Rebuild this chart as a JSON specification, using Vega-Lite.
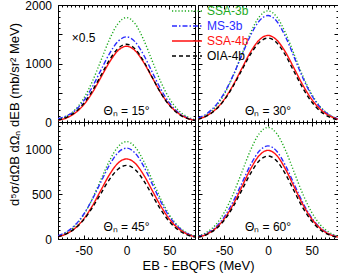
{
"$schema": "https://vega.github.io/schema/vega-lite/v6.json",
"padding": {"left": 8, "top": -2, "right": 2, "bottom": 0},
"config": {
 "view": {"stroke": "black", "strokeWidth": 1},
 "font": "Liberation Sans",
 "axis": {"domainColor": "black", "tickColor": "black", "labelColor": "black", "titleColor": "black", "labelFont": "Liberation Sans", "titleFont": "Liberation Sans", "labelFontSize": 12, "titleFontSize": 13, "titleFontWeight": "normal", "grid": false, "labelOverlap": false, "labelFlush": false, "tickWidth": 1}
},
"data": {"values": [
{"p":"15","s":"SSA-3b","x":-80,"y":40},{"p":"15","s":"SSA-3b","x":-70,"y":97},{"p":"15","s":"SSA-3b","x":-60,"y":211},{"p":"15","s":"SSA-3b","x":-50,"y":403},{"p":"15","s":"SSA-3b","x":-40,"y":689},{"p":"15","s":"SSA-3b","x":-30,"y":1046},{"p":"15","s":"SSA-3b","x":-20,"y":1407},{"p":"15","s":"SSA-3b","x":-10,"y":1681},{"p":"15","s":"SSA-3b","x":0,"y":1785},{"p":"15","s":"SSA-3b","x":10,"y":1681},{"p":"15","s":"SSA-3b","x":20,"y":1407},{"p":"15","s":"SSA-3b","x":30,"y":1046},{"p":"15","s":"SSA-3b","x":40,"y":689},{"p":"15","s":"SSA-3b","x":50,"y":403},{"p":"15","s":"SSA-3b","x":60,"y":211},{"p":"15","s":"SSA-3b","x":70,"y":97},{"p":"15","s":"SSA-3b","x":80,"y":40},
{"p":"15","s":"MS-3b","x":-80,"y":55},{"p":"15","s":"MS-3b","x":-70,"y":105},{"p":"15","s":"MS-3b","x":-60,"y":196},{"p":"15","s":"MS-3b","x":-50,"y":362},{"p":"15","s":"MS-3b","x":-40,"y":598},{"p":"15","s":"MS-3b","x":-30,"y":883},{"p":"15","s":"MS-3b","x":-20,"y":1165},{"p":"15","s":"MS-3b","x":-10,"y":1376},{"p":"15","s":"MS-3b","x":0,"y":1455},{"p":"15","s":"MS-3b","x":10,"y":1371},{"p":"15","s":"MS-3b","x":20,"y":1147},{"p":"15","s":"MS-3b","x":30,"y":853},{"p":"15","s":"MS-3b","x":40,"y":562},{"p":"15","s":"MS-3b","x":50,"y":329},{"p":"15","s":"MS-3b","x":60,"y":172},{"p":"15","s":"MS-3b","x":70,"y":79},{"p":"15","s":"MS-3b","x":80,"y":35},
{"p":"15","s":"SSA-4b","x":-80,"y":29},{"p":"15","s":"SSA-4b","x":-70,"y":70},{"p":"15","s":"SSA-4b","x":-60,"y":153},{"p":"15","s":"SSA-4b","x":-50,"y":293},{"p":"15","s":"SSA-4b","x":-40,"y":500},{"p":"15","s":"SSA-4b","x":-30,"y":759},{"p":"15","s":"SSA-4b","x":-20,"y":1020},{"p":"15","s":"SSA-4b","x":-10,"y":1220},{"p":"15","s":"SSA-4b","x":0,"y":1295},{"p":"15","s":"SSA-4b","x":10,"y":1220},{"p":"15","s":"SSA-4b","x":20,"y":1020},{"p":"15","s":"SSA-4b","x":30,"y":759},{"p":"15","s":"SSA-4b","x":40,"y":500},{"p":"15","s":"SSA-4b","x":50,"y":293},{"p":"15","s":"SSA-4b","x":60,"y":153},{"p":"15","s":"SSA-4b","x":70,"y":70},{"p":"15","s":"SSA-4b","x":80,"y":29},
{"p":"15","s":"OIA-4b","x":-80,"y":34},{"p":"15","s":"OIA-4b","x":-70,"y":80},{"p":"15","s":"OIA-4b","x":-60,"y":168},{"p":"15","s":"OIA-4b","x":-50,"y":317},{"p":"15","s":"OIA-4b","x":-40,"y":531},{"p":"15","s":"OIA-4b","x":-30,"y":793},{"p":"15","s":"OIA-4b","x":-20,"y":1057},{"p":"15","s":"OIA-4b","x":-10,"y":1256},{"p":"15","s":"OIA-4b","x":0,"y":1330},{"p":"15","s":"OIA-4b","x":10,"y":1250},{"p":"15","s":"OIA-4b","x":20,"y":1040},{"p":"15","s":"OIA-4b","x":30,"y":765},{"p":"15","s":"OIA-4b","x":40,"y":496},{"p":"15","s":"OIA-4b","x":50,"y":286},{"p":"15","s":"OIA-4b","x":60,"y":145},{"p":"15","s":"OIA-4b","x":70,"y":65},{"p":"15","s":"OIA-4b","x":80,"y":26},
{"p":"30","s":"SSA-3b","x":-80,"y":54},{"p":"30","s":"SSA-3b","x":-70,"y":125},{"p":"30","s":"SSA-3b","x":-60,"y":257},{"p":"30","s":"SSA-3b","x":-50,"y":473},{"p":"30","s":"SSA-3b","x":-40,"y":781},{"p":"30","s":"SSA-3b","x":-30,"y":1153},{"p":"30","s":"SSA-3b","x":-20,"y":1522},{"p":"30","s":"SSA-3b","x":-10,"y":1797},{"p":"30","s":"SSA-3b","x":0,"y":1900},{"p":"30","s":"SSA-3b","x":10,"y":1797},{"p":"30","s":"SSA-3b","x":20,"y":1522},{"p":"30","s":"SSA-3b","x":30,"y":1153},{"p":"30","s":"SSA-3b","x":40,"y":781},{"p":"30","s":"SSA-3b","x":50,"y":473},{"p":"30","s":"SSA-3b","x":60,"y":257},{"p":"30","s":"SSA-3b","x":70,"y":125},{"p":"30","s":"SSA-3b","x":80,"y":54},
{"p":"30","s":"MS-3b","x":-80,"y":66},{"p":"30","s":"MS-3b","x":-70,"y":142},{"p":"30","s":"MS-3b","x":-60,"y":280},{"p":"30","s":"MS-3b","x":-50,"y":495},{"p":"30","s":"MS-3b","x":-40,"y":792},{"p":"30","s":"MS-3b","x":-30,"y":1139},{"p":"30","s":"MS-3b","x":-20,"y":1478},{"p":"30","s":"MS-3b","x":-10,"y":1727},{"p":"30","s":"MS-3b","x":0,"y":1820},{"p":"30","s":"MS-3b","x":10,"y":1722},{"p":"30","s":"MS-3b","x":20,"y":1458},{"p":"30","s":"MS-3b","x":30,"y":1105},{"p":"30","s":"MS-3b","x":40,"y":748},{"p":"30","s":"MS-3b","x":50,"y":453},{"p":"30","s":"MS-3b","x":60,"y":246},{"p":"30","s":"MS-3b","x":70,"y":120},{"p":"30","s":"MS-3b","x":80,"y":52},
{"p":"30","s":"SSA-4b","x":-80,"y":47},{"p":"30","s":"SSA-4b","x":-70,"y":107},{"p":"30","s":"SSA-4b","x":-60,"y":214},{"p":"30","s":"SSA-4b","x":-50,"y":386},{"p":"30","s":"SSA-4b","x":-40,"y":626},{"p":"30","s":"SSA-4b","x":-30,"y":912},{"p":"30","s":"SSA-4b","x":-20,"y":1194},{"p":"30","s":"SSA-4b","x":-10,"y":1402},{"p":"30","s":"SSA-4b","x":0,"y":1480},{"p":"30","s":"SSA-4b","x":10,"y":1402},{"p":"30","s":"SSA-4b","x":20,"y":1194},{"p":"30","s":"SSA-4b","x":30,"y":912},{"p":"30","s":"SSA-4b","x":40,"y":626},{"p":"30","s":"SSA-4b","x":50,"y":386},{"p":"30","s":"SSA-4b","x":60,"y":214},{"p":"30","s":"SSA-4b","x":70,"y":107},{"p":"30","s":"SSA-4b","x":80,"y":47},
{"p":"30","s":"OIA-4b","x":-80,"y":46},{"p":"30","s":"OIA-4b","x":-70,"y":103},{"p":"30","s":"OIA-4b","x":-60,"y":207},{"p":"30","s":"OIA-4b","x":-50,"y":374},{"p":"30","s":"OIA-4b","x":-40,"y":607},{"p":"30","s":"OIA-4b","x":-30,"y":885},{"p":"30","s":"OIA-4b","x":-20,"y":1157},{"p":"30","s":"OIA-4b","x":-10,"y":1360},{"p":"30","s":"OIA-4b","x":0,"y":1435},{"p":"30","s":"OIA-4b","x":10,"y":1355},{"p":"30","s":"OIA-4b","x":20,"y":1141},{"p":"30","s":"OIA-4b","x":30,"y":855},{"p":"30","s":"OIA-4b","x":40,"y":573},{"p":"30","s":"OIA-4b","x":50,"y":342},{"p":"30","s":"OIA-4b","x":60,"y":181},{"p":"30","s":"OIA-4b","x":70,"y":86},{"p":"30","s":"OIA-4b","x":80,"y":36},
{"p":"45","s":"SSA-3b","x":-80,"y":31},{"p":"45","s":"SSA-3b","x":-70,"y":71},{"p":"45","s":"SSA-3b","x":-60,"y":146},{"p":"45","s":"SSA-3b","x":-50,"y":269},{"p":"45","s":"SSA-3b","x":-40,"y":445},{"p":"45","s":"SSA-3b","x":-30,"y":657},{"p":"45","s":"SSA-3b","x":-20,"y":867},{"p":"45","s":"SSA-3b","x":-10,"y":1024},{"p":"45","s":"SSA-3b","x":0,"y":1082},{"p":"45","s":"SSA-3b","x":10,"y":1024},{"p":"45","s":"SSA-3b","x":20,"y":867},{"p":"45","s":"SSA-3b","x":30,"y":657},{"p":"45","s":"SSA-3b","x":40,"y":445},{"p":"45","s":"SSA-3b","x":50,"y":269},{"p":"45","s":"SSA-3b","x":60,"y":146},{"p":"45","s":"SSA-3b","x":70,"y":71},{"p":"45","s":"SSA-3b","x":80,"y":31},
{"p":"45","s":"MS-3b","x":-80,"y":36},{"p":"45","s":"MS-3b","x":-70,"y":79},{"p":"45","s":"MS-3b","x":-60,"y":156},{"p":"45","s":"MS-3b","x":-50,"y":275},{"p":"45","s":"MS-3b","x":-40,"y":439},{"p":"45","s":"MS-3b","x":-30,"y":632},{"p":"45","s":"MS-3b","x":-20,"y":820},{"p":"45","s":"MS-3b","x":-10,"y":958},{"p":"45","s":"MS-3b","x":0,"y":1010},{"p":"45","s":"MS-3b","x":10,"y":955},{"p":"45","s":"MS-3b","x":20,"y":809},{"p":"45","s":"MS-3b","x":30,"y":613},{"p":"45","s":"MS-3b","x":40,"y":415},{"p":"45","s":"MS-3b","x":50,"y":251},{"p":"45","s":"MS-3b","x":60,"y":136},{"p":"45","s":"MS-3b","x":70,"y":66},{"p":"45","s":"MS-3b","x":80,"y":29},
{"p":"45","s":"SSA-4b","x":-80,"y":25},{"p":"45","s":"SSA-4b","x":-70,"y":58},{"p":"45","s":"SSA-4b","x":-60,"y":120},{"p":"45","s":"SSA-4b","x":-50,"y":222},{"p":"45","s":"SSA-4b","x":-40,"y":366},{"p":"45","s":"SSA-4b","x":-30,"y":540},{"p":"45","s":"SSA-4b","x":-20,"y":713},{"p":"45","s":"SSA-4b","x":-10,"y":842},{"p":"45","s":"SSA-4b","x":0,"y":890},{"p":"45","s":"SSA-4b","x":10,"y":842},{"p":"45","s":"SSA-4b","x":20,"y":713},{"p":"45","s":"SSA-4b","x":30,"y":540},{"p":"45","s":"SSA-4b","x":40,"y":366},{"p":"45","s":"SSA-4b","x":50,"y":222},{"p":"45","s":"SSA-4b","x":60,"y":120},{"p":"45","s":"SSA-4b","x":70,"y":58},{"p":"45","s":"SSA-4b","x":80,"y":25},
{"p":"45","s":"OIA-4b","x":-80,"y":26},{"p":"45","s":"OIA-4b","x":-70,"y":59},{"p":"45","s":"OIA-4b","x":-60,"y":118},{"p":"45","s":"OIA-4b","x":-50,"y":213},{"p":"45","s":"OIA-4b","x":-40,"y":346},{"p":"45","s":"OIA-4b","x":-30,"y":504},{"p":"45","s":"OIA-4b","x":-20,"y":660},{"p":"45","s":"OIA-4b","x":-10,"y":775},{"p":"45","s":"OIA-4b","x":0,"y":818},{"p":"45","s":"OIA-4b","x":10,"y":772},{"p":"45","s":"OIA-4b","x":20,"y":650},{"p":"45","s":"OIA-4b","x":30,"y":488},{"p":"45","s":"OIA-4b","x":40,"y":326},{"p":"45","s":"OIA-4b","x":50,"y":195},{"p":"45","s":"OIA-4b","x":60,"y":103},{"p":"45","s":"OIA-4b","x":70,"y":49},{"p":"45","s":"OIA-4b","x":80,"y":21},
{"p":"60","s":"SSA-3b","x":-80,"y":31},{"p":"60","s":"SSA-3b","x":-70,"y":74},{"p":"60","s":"SSA-3b","x":-60,"y":156},{"p":"60","s":"SSA-3b","x":-50,"y":295},{"p":"60","s":"SSA-3b","x":-40,"y":495},{"p":"60","s":"SSA-3b","x":-30,"y":739},{"p":"60","s":"SSA-3b","x":-20,"y":986},{"p":"60","s":"SSA-3b","x":-10,"y":1171},{"p":"60","s":"SSA-3b","x":0,"y":1240},{"p":"60","s":"SSA-3b","x":10,"y":1171},{"p":"60","s":"SSA-3b","x":20,"y":986},{"p":"60","s":"SSA-3b","x":30,"y":739},{"p":"60","s":"SSA-3b","x":40,"y":495},{"p":"60","s":"SSA-3b","x":50,"y":295},{"p":"60","s":"SSA-3b","x":60,"y":156},{"p":"60","s":"SSA-3b","x":70,"y":74},{"p":"60","s":"SSA-3b","x":80,"y":31},
{"p":"60","s":"MS-3b","x":-80,"y":26},{"p":"60","s":"MS-3b","x":-70,"y":62},{"p":"60","s":"MS-3b","x":-60,"y":130},{"p":"60","s":"MS-3b","x":-50,"y":246},{"p":"60","s":"MS-3b","x":-40,"y":413},{"p":"60","s":"MS-3b","x":-30,"y":617},{"p":"60","s":"MS-3b","x":-20,"y":823},{"p":"60","s":"MS-3b","x":-10,"y":977},{"p":"60","s":"MS-3b","x":0,"y":1035},{"p":"60","s":"MS-3b","x":10,"y":975},{"p":"60","s":"MS-3b","x":20,"y":816},{"p":"60","s":"MS-3b","x":30,"y":607},{"p":"60","s":"MS-3b","x":40,"y":400},{"p":"60","s":"MS-3b","x":50,"y":234},{"p":"60","s":"MS-3b","x":60,"y":122},{"p":"60","s":"MS-3b","x":70,"y":56},{"p":"60","s":"MS-3b","x":80,"y":23},
{"p":"60","s":"SSA-4b","x":-80,"y":22},{"p":"60","s":"SSA-4b","x":-70,"y":53},{"p":"60","s":"SSA-4b","x":-60,"y":116},{"p":"60","s":"SSA-4b","x":-50,"y":223},{"p":"60","s":"SSA-4b","x":-40,"y":380},{"p":"60","s":"SSA-4b","x":-30,"y":577},{"p":"60","s":"SSA-4b","x":-20,"y":776},{"p":"60","s":"SSA-4b","x":-10,"y":928},{"p":"60","s":"SSA-4b","x":0,"y":985},{"p":"60","s":"SSA-4b","x":10,"y":928},{"p":"60","s":"SSA-4b","x":20,"y":776},{"p":"60","s":"SSA-4b","x":30,"y":577},{"p":"60","s":"SSA-4b","x":40,"y":380},{"p":"60","s":"SSA-4b","x":50,"y":223},{"p":"60","s":"SSA-4b","x":60,"y":116},{"p":"60","s":"SSA-4b","x":70,"y":53},{"p":"60","s":"SSA-4b","x":80,"y":22},
{"p":"60","s":"OIA-4b","x":-80,"y":21},{"p":"60","s":"OIA-4b","x":-70,"y":50},{"p":"60","s":"OIA-4b","x":-60,"y":109},{"p":"60","s":"OIA-4b","x":-50,"y":208},{"p":"60","s":"OIA-4b","x":-40,"y":356},{"p":"60","s":"OIA-4b","x":-30,"y":540},{"p":"60","s":"OIA-4b","x":-20,"y":727},{"p":"60","s":"OIA-4b","x":-10,"y":869},{"p":"60","s":"OIA-4b","x":0,"y":922},{"p":"60","s":"OIA-4b","x":10,"y":867},{"p":"60","s":"OIA-4b","x":20,"y":721},{"p":"60","s":"OIA-4b","x":30,"y":530},{"p":"60","s":"OIA-4b","x":40,"y":344},{"p":"60","s":"OIA-4b","x":50,"y":198},{"p":"60","s":"OIA-4b","x":60,"y":100},{"p":"60","s":"OIA-4b","x":70,"y":45},{"p":"60","s":"OIA-4b","x":80,"y":18}
]},
"columns": 2,
"spacing": 0,
"bounds": "flush",
"align": "all",
"resolve": {"scale": {"x": "independent", "y": "independent"}},
"concat": [
{
 "width": 137, "height": 117,
 "resolve": {"axis": {"x": "independent", "y": "independent"}},
 "layer": [
  {"transform": [{"filter": "datum.p === '15' && (datum.s === 'SSA-3b' || datum.s === 'MS-3b')"}],
   "mark": {"type": "line", "interpolate": "monotone", "clip": true, "strokeWidth": 1.4},
   "encoding": {
    "x": {"field": "x", "type": "quantitative", "scale": {"domain": [-80, 80], "nice": false, "zero": false},
      "axis": {"orient": "bottom", "values": [-50, 0, 50], "labels": false, "domain": false, "tickSize": -4, "title": null}},
    "y": {"field": "y", "type": "quantitative", "scale": {"domain": [0, 2000], "nice": false},
      "axis": {"orient": "left", "values": [0, 500, 1000, 1500, 2000], "labelExpr": "datum.value % 1000 === 0 ? '' + datum.value : ''", "labelPadding": 10.5, "domain": false, "tickSize": -4, "title": "d⁵σ/dΩB dΩₙ dEB  (mb/sr² MeV)", "titleY": 109, "titlePadding": 3}},
    "color": {"field": "s", "type": "nominal", "scale": {"domain": ["SSA-3b", "MS-3b", "SSA-4b", "OIA-4b"], "range": ["#1daa1d", "#2b2bff", "#ff1010", "#000000"]},
      "legend": {"orient": "none", "legendX": 113, "legendY": 0, "title": null, "symbolType": "M-1,0H5", "symbolSize": 100, "symbolStrokeWidth": 1.5, "labelOffset": 24, "labelFontSize": 12, "labelFont": "Liberation Sans", "rowPadding": 3, "padding": 0,
        "encode": {"labels": {"update": {"fill": [{"test": "datum.value === 'SSA-3b'", "value": "#1daa1d"}, {"test": "datum.value === 'MS-3b'", "value": "#2b2bff"}, {"test": "datum.value === 'SSA-4b'", "value": "#ff1010"}, {"value": "#000000"}]}}}}},
    "strokeDash": {"field": "s", "type": "nominal", "scale": {"domain": ["SSA-3b", "MS-3b", "SSA-4b", "OIA-4b"], "range": [[1.2, 2], [5, 2, 1.5, 2], [1, 0], [4, 3]]},
      "legend": {"orient": "none", "legendX": 113, "legendY": 0, "title": null, "symbolType": "M-1,0H5", "symbolSize": 100, "symbolStrokeWidth": 1.5, "labelOffset": 24, "labelFontSize": 12, "labelFont": "Liberation Sans", "rowPadding": 3, "padding": 0,
        "encode": {"labels": {"update": {"fill": [{"test": "datum.value === 'SSA-3b'", "value": "#1daa1d"}, {"test": "datum.value === 'MS-3b'", "value": "#2b2bff"}, {"test": "datum.value === 'SSA-4b'", "value": "#ff1010"}, {"value": "#000000"}]}}}}}
   }},
  {"transform": [{"filter": "datum.p === '15' && (datum.s === 'SSA-4b' || datum.s === 'OIA-4b')"}],
   "mark": {"type": "line", "interpolate": "monotone", "clip": true, "strokeWidth": 1.4},
   "encoding": {
    "x": {"field": "x", "type": "quantitative", "scale": {"domain": [-80, 80], "nice": false, "zero": false},
      "axis": {"orient": "bottom", "values": [-80,-75,-70,-65,-60,-55,-50,-45,-40,-35,-30,-25,-20,-15,-10,-5,0,5,10,15,20,25,30,35,40,45,50,55,60,65,70,75,80], "labels": false, "domain": false, "tickSize": -2, "title": null}},
    "y": {"field": "y", "type": "quantitative", "scale": {"domain": [0, 2000], "nice": false},
      "axis": {"orient": "left", "values": [0,100,200,300,400,500,600,700,800,900,1000,1100,1200,1300,1400,1500,1600,1700,1800,1900,2000], "labels": false, "domain": false, "tickSize": -2, "title": null}},
    "color": {"field": "s", "type": "nominal", "scale": {"domain": ["SSA-3b", "MS-3b", "SSA-4b", "OIA-4b"], "range": ["#1daa1d", "#2b2bff", "#ff1010", "#000000"]},
      "legend": {"orient": "none", "legendX": 113, "legendY": 0, "title": null, "symbolType": "M-1,0H5", "symbolSize": 100, "symbolStrokeWidth": 1.5, "labelOffset": 24, "labelFontSize": 12, "labelFont": "Liberation Sans", "rowPadding": 3, "padding": 0,
        "encode": {"labels": {"update": {"fill": [{"test": "datum.value === 'SSA-3b'", "value": "#1daa1d"}, {"test": "datum.value === 'MS-3b'", "value": "#2b2bff"}, {"test": "datum.value === 'SSA-4b'", "value": "#ff1010"}, {"value": "#000000"}]}}}}},
    "strokeDash": {"field": "s", "type": "nominal", "scale": {"domain": ["SSA-3b", "MS-3b", "SSA-4b", "OIA-4b"], "range": [[1.2, 2], [5, 2, 1.5, 2], [1, 0], [4, 3]]},
      "legend": {"orient": "none", "legendX": 113, "legendY": 0, "title": null, "symbolType": "M-1,0H5", "symbolSize": 100, "symbolStrokeWidth": 1.5, "labelOffset": 24, "labelFontSize": 12, "labelFont": "Liberation Sans", "rowPadding": 3, "padding": 0,
        "encode": {"labels": {"update": {"fill": [{"test": "datum.value === 'SSA-3b'", "value": "#1daa1d"}, {"test": "datum.value === 'MS-3b'", "value": "#2b2bff"}, {"test": "datum.value === 'SSA-4b'", "value": "#ff1010"}, {"value": "#000000"}]}}}}}
   }},
  {"data": {"values": [{}]}, "mark": {"type": "text", "text": "Θₙ = 15°", "font": "Liberation Sans", "fontSize": 12, "align": "center", "baseline": "alphabetic", "color": "black"},
   "encoding": {
    "x": {"datum": 0, "type": "quantitative", "axis": {"orient": "top", "values": [-80,-75,-70,-65,-60,-55,-50,-45,-40,-35,-30,-25,-20,-15,-10,-5,0,5,10,15,20,25,30,35,40,45,50,55,60,65,70,75,80], "labels": false, "domain": false, "title": null, "tickSize": {"condition": {"test": "datum.value % 50 === 0", "value": -4}, "value": -2}}},
    "y": {"datum": 120, "type": "quantitative", "axis": {"orient": "right", "values": [0,100,200,300,400,500,600,700,800,900,1000,1100,1200,1300,1400,1500,1600,1700,1800,1900,2000], "labels": false, "domain": false, "title": null, "tickSize": {"condition": {"test": "datum.value % 500 === 0", "value": -4}, "value": -2}}}}},
  {"data": {"values": [{}]}, "mark": {"type": "text", "text": "×0.5", "font": "Liberation Sans", "fontSize": 12, "align": "center", "baseline": "alphabetic", "color": "black"},
   "encoding": {"x": {"datum": -50, "type": "quantitative", "axis": null}, "y": {"datum": 1360, "type": "quantitative", "axis": null}}}
 ]
},
{
 "width": 140, "height": 117,
 "resolve": {"axis": {"x": "independent", "y": "independent"}},
 "layer": [
  {"transform": [{"filter": "datum.p === '30' && (datum.s === 'SSA-3b' || datum.s === 'MS-3b')"}],
   "mark": {"type": "line", "interpolate": "monotone", "clip": true, "strokeWidth": 1.4},
   "encoding": {
    "x": {"field": "x", "type": "quantitative", "scale": {"domain": [-80, 80], "nice": false, "zero": false},
      "axis": {"orient": "bottom", "values": [-50, 0, 50], "labels": false, "domain": false, "tickSize": -4, "title": null}},
    "y": {"field": "y", "type": "quantitative", "scale": {"domain": [0, 2000], "nice": false},
      "axis": {"orient": "left", "values": [0, 500, 1000, 1500, 2000], "labels": false, "domain": false, "tickSize": -4, "title": null}},
    "color": {"field": "s", "type": "nominal", "scale": {"domain": ["SSA-3b", "MS-3b", "SSA-4b", "OIA-4b"], "range": ["#1daa1d", "#2b2bff", "#ff1010", "#000000"]}, "legend": null},
    "strokeDash": {"field": "s", "type": "nominal", "scale": {"domain": ["SSA-3b", "MS-3b", "SSA-4b", "OIA-4b"], "range": [[1.2, 2], [5, 2, 1.5, 2], [1, 0], [4, 3]]}, "legend": null}
   }},
  {"transform": [{"filter": "datum.p === '30' && (datum.s === 'SSA-4b' || datum.s === 'OIA-4b')"}],
   "mark": {"type": "line", "interpolate": "monotone", "clip": true, "strokeWidth": 1.4},
   "encoding": {
    "x": {"field": "x", "type": "quantitative", "scale": {"domain": [-80, 80], "nice": false, "zero": false},
      "axis": {"orient": "bottom", "values": [-80,-75,-70,-65,-60,-55,-50,-45,-40,-35,-30,-25,-20,-15,-10,-5,0,5,10,15,20,25,30,35,40,45,50,55,60,65,70,75,80], "labels": false, "domain": false, "tickSize": -2, "title": null}},
    "y": {"field": "y", "type": "quantitative", "scale": {"domain": [0, 2000], "nice": false},
      "axis": {"orient": "left", "values": [0,100,200,300,400,500,600,700,800,900,1000,1100,1200,1300,1400,1500,1600,1700,1800,1900,2000], "labels": false, "domain": false, "tickSize": -2, "title": null}},
    "color": {"field": "s", "type": "nominal", "scale": {"domain": ["SSA-3b", "MS-3b", "SSA-4b", "OIA-4b"], "range": ["#1daa1d", "#2b2bff", "#ff1010", "#000000"]}, "legend": null},
    "strokeDash": {"field": "s", "type": "nominal", "scale": {"domain": ["SSA-3b", "MS-3b", "SSA-4b", "OIA-4b"], "range": [[1.2, 2], [5, 2, 1.5, 2], [1, 0], [4, 3]]}, "legend": null}
   }},
  {"data": {"values": [{}]}, "mark": {"type": "text", "text": "Θₙ = 30°", "font": "Liberation Sans", "fontSize": 12, "align": "center", "baseline": "alphabetic", "color": "black"},
   "encoding": {
    "x": {"datum": 0, "type": "quantitative", "axis": {"orient": "top", "values": [-80,-75,-70,-65,-60,-55,-50,-45,-40,-35,-30,-25,-20,-15,-10,-5,0,5,10,15,20,25,30,35,40,45,50,55,60,65,70,75,80], "labels": false, "domain": false, "title": null, "tickSize": {"condition": {"test": "datum.value % 50 === 0", "value": -4}, "value": -2}}},
    "y": {"datum": 120, "type": "quantitative", "axis": {"orient": "right", "values": [0,100,200,300,400,500,600,700,800,900,1000,1100,1200,1300,1400,1500,1600,1700,1800,1900,2000], "labels": false, "domain": false, "title": null, "tickSize": {"condition": {"test": "datum.value % 500 === 0", "value": -4}, "value": -2}}}}}
 ]
},
{
 "width": 137, "height": 117,
 "resolve": {"axis": {"x": "independent", "y": "independent"}},
 "layer": [
  {"transform": [{"filter": "datum.p === '45' && (datum.s === 'SSA-3b' || datum.s === 'MS-3b')"}],
   "mark": {"type": "line", "interpolate": "monotone", "clip": true, "strokeWidth": 1.4},
   "encoding": {
    "x": {"field": "x", "type": "quantitative", "scale": {"domain": [-80, 80], "nice": false, "zero": false},
      "axis": {"orient": "bottom", "values": [-50, 0, 50], "labelExpr": "'' + datum.value", "labelPadding": 10, "domain": false, "tickSize": -4, "title": "EB - EBQFS   (MeV)", "titleX": 140, "titlePadding": 3}},
    "y": {"field": "y", "type": "quantitative", "scale": {"domain": [0, 1300], "nice": false},
      "axis": {"orient": "left", "values": [0, 500, 1000], "labelExpr": "'' + datum.value", "labelPadding": 10.5, "domain": false, "tickSize": -4, "title": null}},
    "color": {"field": "s", "type": "nominal", "scale": {"domain": ["SSA-3b", "MS-3b", "SSA-4b", "OIA-4b"], "range": ["#1daa1d", "#2b2bff", "#ff1010", "#000000"]}, "legend": null},
    "strokeDash": {"field": "s", "type": "nominal", "scale": {"domain": ["SSA-3b", "MS-3b", "SSA-4b", "OIA-4b"], "range": [[1.2, 2], [5, 2, 1.5, 2], [1, 0], [4, 3]]}, "legend": null}
   }},
  {"transform": [{"filter": "datum.p === '45' && (datum.s === 'SSA-4b' || datum.s === 'OIA-4b')"}],
   "mark": {"type": "line", "interpolate": "monotone", "clip": true, "strokeWidth": 1.4},
   "encoding": {
    "x": {"field": "x", "type": "quantitative", "scale": {"domain": [-80, 80], "nice": false, "zero": false},
      "axis": {"orient": "bottom", "values": [-80,-75,-70,-65,-60,-55,-50,-45,-40,-35,-30,-25,-20,-15,-10,-5,0,5,10,15,20,25,30,35,40,45,50,55,60,65,70,75,80], "labels": false, "domain": false, "tickSize": -2, "title": null}},
    "y": {"field": "y", "type": "quantitative", "scale": {"domain": [0, 1300], "nice": false},
      "axis": {"orient": "left", "values": [0,50,100,150,200,250,300,350,400,450,500,550,600,650,700,750,800,850,900,950,1000,1050,1100,1150,1200,1250,1300], "labels": false, "domain": false, "tickSize": -2, "title": null}},
    "color": {"field": "s", "type": "nominal", "scale": {"domain": ["SSA-3b", "MS-3b", "SSA-4b", "OIA-4b"], "range": ["#1daa1d", "#2b2bff", "#ff1010", "#000000"]}, "legend": null},
    "strokeDash": {"field": "s", "type": "nominal", "scale": {"domain": ["SSA-3b", "MS-3b", "SSA-4b", "OIA-4b"], "range": [[1.2, 2], [5, 2, 1.5, 2], [1, 0], [4, 3]]}, "legend": null}
   }},
  {"data": {"values": [{}]}, "mark": {"type": "text", "text": "Θₙ = 45°", "font": "Liberation Sans", "fontSize": 12, "align": "center", "baseline": "alphabetic", "color": "black"},
   "encoding": {
    "x": {"datum": 0, "type": "quantitative", "axis": {"orient": "top", "values": [-80,-75,-70,-65,-60,-55,-50,-45,-40,-35,-30,-25,-20,-15,-10,-5,0,5,10,15,20,25,30,35,40,45,50,55,60,65,70,75,80], "labels": false, "domain": false, "title": null, "tickSize": {"condition": {"test": "datum.value % 50 === 0", "value": -4}, "value": -2}}},
    "y": {"datum": 90, "type": "quantitative", "axis": {"orient": "right", "values": [0,50,100,150,200,250,300,350,400,450,500,550,600,650,700,750,800,850,900,950,1000,1050,1100,1150,1200,1250,1300], "labels": false, "domain": false, "title": null, "tickSize": {"condition": {"test": "datum.value % 500 === 0", "value": -4}, "value": -2}}}}}
 ]
},
{
 "width": 140, "height": 117,
 "resolve": {"axis": {"x": "independent", "y": "independent"}},
 "layer": [
  {"transform": [{"filter": "datum.p === '60' && (datum.s === 'SSA-3b' || datum.s === 'MS-3b')"}],
   "mark": {"type": "line", "interpolate": "monotone", "clip": true, "strokeWidth": 1.4},
   "encoding": {
    "x": {"field": "x", "type": "quantitative", "scale": {"domain": [-80, 80], "nice": false, "zero": false},
      "axis": {"orient": "bottom", "values": [-50, 0, 50], "labelExpr": "'' + datum.value", "labelPadding": 10, "domain": false, "tickSize": -4, "title": null}},
    "y": {"field": "y", "type": "quantitative", "scale": {"domain": [0, 1300], "nice": false},
      "axis": {"orient": "left", "values": [0, 500, 1000], "labels": false, "domain": false, "tickSize": -4, "title": null}},
    "color": {"field": "s", "type": "nominal", "scale": {"domain": ["SSA-3b", "MS-3b", "SSA-4b", "OIA-4b"], "range": ["#1daa1d", "#2b2bff", "#ff1010", "#000000"]}, "legend": null},
    "strokeDash": {"field": "s", "type": "nominal", "scale": {"domain": ["SSA-3b", "MS-3b", "SSA-4b", "OIA-4b"], "range": [[1.2, 2], [5, 2, 1.5, 2], [1, 0], [4, 3]]}, "legend": null}
   }},
  {"transform": [{"filter": "datum.p === '60' && (datum.s === 'SSA-4b' || datum.s === 'OIA-4b')"}],
   "mark": {"type": "line", "interpolate": "monotone", "clip": true, "strokeWidth": 1.4},
   "encoding": {
    "x": {"field": "x", "type": "quantitative", "scale": {"domain": [-80, 80], "nice": false, "zero": false},
      "axis": {"orient": "bottom", "values": [-80,-75,-70,-65,-60,-55,-50,-45,-40,-35,-30,-25,-20,-15,-10,-5,0,5,10,15,20,25,30,35,40,45,50,55,60,65,70,75,80], "labels": false, "domain": false, "tickSize": -2, "title": null}},
    "y": {"field": "y", "type": "quantitative", "scale": {"domain": [0, 1300], "nice": false},
      "axis": {"orient": "left", "values": [0,50,100,150,200,250,300,350,400,450,500,550,600,650,700,750,800,850,900,950,1000,1050,1100,1150,1200,1250,1300], "labels": false, "domain": false, "tickSize": -2, "title": null}},
    "color": {"field": "s", "type": "nominal", "scale": {"domain": ["SSA-3b", "MS-3b", "SSA-4b", "OIA-4b"], "range": ["#1daa1d", "#2b2bff", "#ff1010", "#000000"]}, "legend": null},
    "strokeDash": {"field": "s", "type": "nominal", "scale": {"domain": ["SSA-3b", "MS-3b", "SSA-4b", "OIA-4b"], "range": [[1.2, 2], [5, 2, 1.5, 2], [1, 0], [4, 3]]}, "legend": null}
   }},
  {"data": {"values": [{}]}, "mark": {"type": "text", "text": "Θₙ = 60°", "font": "Liberation Sans", "fontSize": 12, "align": "center", "baseline": "alphabetic", "color": "black"},
   "encoding": {
    "x": {"datum": 0, "type": "quantitative", "axis": {"orient": "top", "values": [-80,-75,-70,-65,-60,-55,-50,-45,-40,-35,-30,-25,-20,-15,-10,-5,0,5,10,15,20,25,30,35,40,45,50,55,60,65,70,75,80], "labels": false, "domain": false, "title": null, "tickSize": {"condition": {"test": "datum.value % 50 === 0", "value": -4}, "value": -2}}},
    "y": {"datum": 90, "type": "quantitative", "axis": {"orient": "right", "values": [0,50,100,150,200,250,300,350,400,450,500,550,600,650,700,750,800,850,900,950,1000,1050,1100,1150,1200,1250,1300], "labels": false, "domain": false, "title": null, "tickSize": {"condition": {"test": "datum.value % 500 === 0", "value": -4}, "value": -2}}}}}
 ]
}
]
}
